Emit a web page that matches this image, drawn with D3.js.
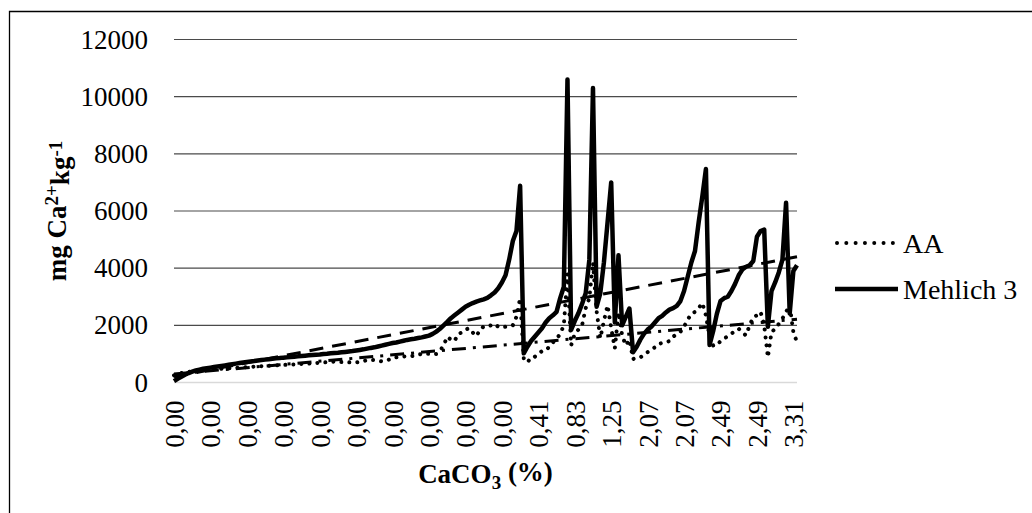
<!DOCTYPE html>
<html><head><meta charset="utf-8">
<script src="https://cdn.jsdelivr.net/npm/d3@7"></script>
<style>
html,body{margin:0;padding:0;background:#fff;}
svg{display:block;font-family:"Liberation Serif","Times New Roman",serif;}
</style></head><body>
<svg id="chart" width="1032" height="513"></svg>
<script>
// CaCO3 (%) category of each sample, as [label, number of samples]
const caco3Groups = [["0,00",96],["0,41",13],["0,83",7],["1,25",5],["1,66",5],["2,07",21],["2,49",16],["2,90",6],["3,31",3]];
const categories = caco3Groups.flatMap(([lab, n]) => Array(n).fill(lab));

// AA extraction (mg Ca2+ kg-1)
const aaValues = [
 250,300,330,350,370,390,400,420,430,440,
 450,460,470,480,490,500,505,515,520,530,
 540,545,555,560,570,580,585,595,600,610,
 615,620,630,635,640,650,655,660,670,680,
 690,700,710,720,730,720,715,710,705,700,
 705,720,750,780,795,780,760,740,760,800,
 850,880,900,910,920,920,940,970,1000,1010,
 1000,980,1000,1100,1300,1600,1500,1450,1700,1750,
 1850,1900,1750,1620,1850,1960,1970,2000,2050,1950,
 1930,1950,1980,2000,2300,2950,850,700,880,900,
 1000,1100,1120,1250,1400,1530,1700,2000,3800,1300,
 1700,1850,2000,2600,2950,4200,2500,1550,2150,2700,
 1900,1200,2450,1650,1300,1500,820,870,880,950,
 1060,1150,1230,1350,1380,1410,1450,1600,1700,1770,
 1950,2200,2400,2470,2600,2780,2350,1600,1290,1300,
 1450,1530,1620,1710,1800,1880,1750,1650,2000,2290,
 2350,2470,2000,880,1760,1880,2050,2235,2470,2700,
 1760,1410
];

// Mehlich 3 extraction (mg Ca2+ kg-1)
const mehlichValues = [
 50,130,200,270,330,380,420,450,480,500,
 520,540,560,580,600,620,640,660,680,700,
 720,735,750,770,785,800,815,830,845,855,
 870,880,895,905,915,930,940,950,960,970,
 980,995,1005,1020,1030,1040,1055,1070,1085,1100,
 1120,1140,1160,1185,1210,1230,1260,1290,1320,1350,
 1380,1400,1430,1460,1490,1510,1530,1555,1580,1610,
 1640,1700,1780,1880,2000,2120,2250,2350,2450,2550,
 2650,2720,2780,2830,2870,2910,2960,3050,3150,3300,
 3500,3750,4300,4950,5300,6880,1020,1250,1450,1600,
 1750,1900,2100,2250,2350,2470,2950,3350,10600,1840,
 2150,2420,2750,3120,4290,10300,2650,3120,4200,5600,
 7000,2100,4450,2000,2300,2590,1060,1250,1500,1700,
 1850,1950,2100,2250,2330,2450,2550,2600,2680,2850,
 3200,3700,4200,4600,5600,6500,7470,1310,1800,2400,
 2850,2950,3000,3200,3450,3750,3950,4050,4100,4250,
 5100,5300,5350,1950,3200,3500,3850,4300,6290,2420,
 3900,4100
];

// linear trend lines, value at first and last sample
const mehlichTrend = [200, 4400];
const aaTrend = [295, 2213];

const yTicks = [0,2000,4000,6000,8000,10000,12000];
const labelEvery = 10;
const seriesNames = ["AA", "Mehlich 3"];

const svg = d3.select("#chart");
const pL = 174, pR = 797, pT = 39.5, pB = 382.5;
const n = categories.length;

const x = d3.scaleLinear().domain([0, n - 1]).range([pL, pR]);
const y = d3.scaleLinear().domain([0, 12000]).range([pB, pT]);

// outer frame (top + left edges visible)
svg.append("path").attr("d", "M9.5,520 V11.5 H1040")
  .attr("fill","none").attr("stroke","#000").attr("stroke-width",1.3);

// gridlines
svg.append("g").selectAll("line").data(yTicks.filter(d => d > 0)).join("line")
  .attr("x1", pL).attr("x2", pR)
  .attr("y1", d => y(d)).attr("y2", d => y(d))
  .attr("stroke", "#4a4a4a").attr("stroke-width", 1.2);
// category axis line
svg.append("line").attr("x1", pL).attr("x2", pR)
  .attr("y1", y(0)).attr("y2", y(0))
  .attr("stroke", "#d9d9d9").attr("stroke-width", 1.5);

// y axis
const yAxis = svg.append("g").attr("transform", `translate(${pL},0)`)
  .call(d3.axisLeft(y).tickValues(yTicks).tickSize(0).tickPadding(26).tickFormat(d3.format("d")));
yAxis.select(".domain").remove();
yAxis.selectAll("text").attr("font-size", 27).attr("font-family", "Liberation Serif").attr("fill", "#000");

// x axis
const xAxis = svg.append("g").attr("transform", `translate(0,${y(0)})`)
  .call(d3.axisBottom(x).tickValues(d3.range(0, n, labelEvery)).tickSize(0).tickFormat(i => categories[i]));
xAxis.select(".domain").remove();
xAxis.selectAll("text")
  .attr("transform", "rotate(-90)")
  .attr("text-anchor", "end")
  .attr("x", -18).attr("y", 0).attr("dy", "0.35em")
  .attr("font-size", 27).attr("font-family", "Liberation Serif").attr("fill", "#000");

const line = d3.line().x((d, i) => x(i)).y(d => y(d));

// AA series (round dots)
svg.append("path").datum(aaValues).attr("d", line)
  .attr("fill", "none").attr("stroke", "#000").attr("stroke-width", 4)
  .attr("stroke-linecap", "round").attr("stroke-dasharray", "0.01 8");

// Mehlich 3 series (solid)
svg.append("path").datum(mehlichValues).attr("d", line)
  .attr("fill", "none").attr("stroke", "#000").attr("stroke-width", 4.5)
  .attr("stroke-linejoin", "round");

// trend lines
const tline = d3.line().x(d => x(d[0])).y(d => y(d[1]));
svg.append("path").datum([[0, mehlichTrend[0]], [n - 1, mehlichTrend[1]]]).attr("d", tline)
  .attr("fill", "none").attr("stroke", "#000").attr("stroke-width", 3)
  .attr("stroke-dasharray", "14 9");
svg.append("path").datum([[0, aaTrend[0]], [n - 1, aaTrend[1]]]).attr("d", tline)
  .attr("fill", "none").attr("stroke", "#000").attr("stroke-width", 3)
  .attr("stroke-dasharray", "14 7 3 7");

// axis titles
const yt = svg.append("text")
  .attr("transform", `translate(66,${(pT + pB) / 2}) rotate(-90)`)
  .attr("text-anchor", "middle").attr("font-size", 27).attr("font-weight", "bold");
yt.append("tspan").text("mg Ca");
yt.append("tspan").attr("dy", "-0.4em").attr("font-size", 19).text("2+");
yt.append("tspan").attr("dy", "0.4em").text("kg");
yt.append("tspan").attr("dy", "-0.4em").attr("font-size", 19).text("-1");

const xt = svg.append("text")
  .attr("x", (pL + pR) / 2).attr("y", 483)
  .attr("text-anchor", "middle").attr("font-size", 27).attr("font-weight", "bold");
xt.append("tspan").text("CaCO");
xt.append("tspan").attr("dy", "0.3em").attr("font-size", 19).text("3");
xt.append("tspan").attr("dy", "-0.3em").text(" (%)");

// legend
const legend = svg.append("g");
const legY = [243, 289];
legend.append("line").attr("x1", 837).attr("x2", 893).attr("y1", legY[0]).attr("y2", legY[0])
  .attr("stroke", "#000").attr("stroke-width", 4).attr("stroke-linecap", "round").attr("stroke-dasharray", "0.01 9.3");
legend.append("line").attr("x1", 835).attr("x2", 898).attr("y1", legY[1]).attr("y2", legY[1])
  .attr("stroke", "#000").attr("stroke-width", 4.5);
legend.selectAll("text").data(seriesNames).join("text")
  .attr("x", 903).attr("y", (d, i) => legY[i]).attr("dy", "0.35em")
  .attr("font-size", 28).text(d => d);
</script>
</body></html>
